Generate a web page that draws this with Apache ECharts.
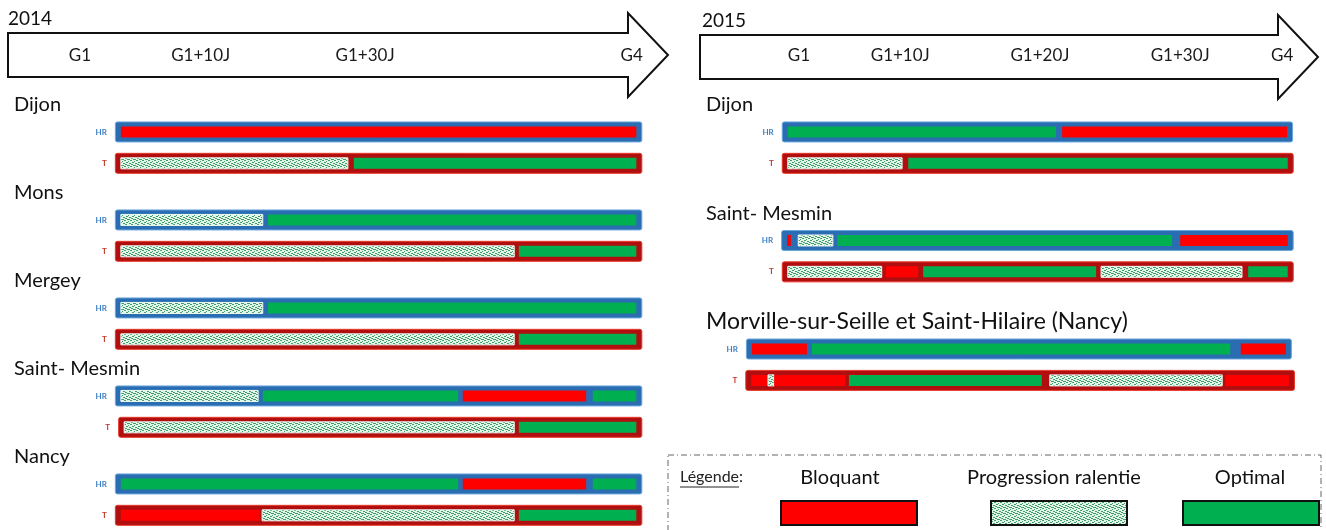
<!DOCTYPE html>
<html>
<head>
<meta charset="utf-8">
<script src="https://cdn.jsdelivr.net/npm/echarts@6/dist/echarts.min.js"></script>
<style>
  html, body { margin: 0; padding: 0; background: #fff; }
  #chart { width: 1326px; height: 530px; }
</style>
</head>
<body>
<div id="chart"></div>
<script>
// positions along each arrow, 0 = arrow start, 100 = arrow tip
// B = bloquant, P = progression ralentie, O = optimal
const sites2014 = ['Dijon', 'Mons', 'Mergey', 'Saint- Mesmin', 'Nancy']
const hr2014 = [
  [[17.1, 95.2, 'B']],
  [[17.1, 38.6, 'P'], [39.4, 95.2, 'O']],
  [[17.1, 38.6, 'P'], [39.4, 95.2, 'O']],
  [[17.1, 37.9, 'P'], [38.6, 68.2, 'O'], [68.9, 87.6, 'B'], [88.6, 95.2, 'O']],
  [[17.1, 68.2, 'O'], [68.9, 87.6, 'B'], [88.6, 95.2, 'O']]
]
const t2014 = [
  [[17.1, 51.5, 'P'], [52.4, 95.2, 'O']],
  [[17.1, 76.7, 'P'], [77.4, 95.2, 'O']],
  [[17.1, 76.7, 'P'], [77.4, 95.2, 'O']],
  [[17.6, 76.7, 'P'], [77.4, 95.2, 'O']],
  [[17.1, 38.2, 'B'], [38.5, 76.7, 'P'], [77.4, 95.2, 'O']]
]
const ticks2014 = ['G1', 'G1+10J', 'G1+30J', 'G4']
const tickPos2014 = [10.9, 29.2, 54.1, 94.5]

const sites2015 = ['Dijon', 'Saint- Mesmin', 'Morville-sur-Seille et Saint-Hilaire (Nancy)']
const hr2015 = [
  [[14.2, 57.6, 'O'], [58.6, 95.0, 'B']],
  [[14.1, 14.7, 'B'], [15.9, 21.5, 'P'], [22.2, 76.4, 'O'], [77.7, 95.1, 'B']],
  [[8.4, 17.3, 'B'], [18.1, 85.8, 'O'], [87.5, 94.8, 'B']]
]
const t2015 = [
  [[14.2, 32.7, 'P'], [33.7, 95.1, 'O']],
  [[14.2, 29.4, 'P'], [30.1, 35.3, 'B'], [36.1, 64.1, 'O'], [64.9, 87.7, 'P'], [88.7, 95.1, 'O']],
  [[8.3, 11.0, 'B'], [11.0, 12.0, 'P'], [12.0, 23.5, 'B'], [24.1, 55.3, 'O'], [56.6, 84.5, 'P'], [85.0, 95.3, 'B']]
]
const ticks2015 = ['G1', 'G1+10J', 'G1+20J', 'G1+30J', 'G4']
const tickPos2015 = [16.0, 32.4, 55.0, 77.7, 94.2]

const stateKeys = ['B', 'P', 'O']
const legendNames = ['Bloquant', 'Progression ralentie', 'Optimal']

const FONT = 'Lato, "Open Sans", sans-serif'
const siteSize2014 = [20, 20, 20, 20, 20]
const siteSize2015 = [20, 20, 23]

// motif pointillé vert pour "progression ralentie"
const makeDots = () => {
  const c = document.createElement('canvas')
  c.width = 6
  c.height = 6
  const g = c.getContext('2d')
  g.fillStyle = '#e4f4ea'
  g.fillRect(0, 0, 6, 6)
  g.fillStyle = '#3c9f68'
  ;[[0, 0, 2, 1], [3, 1, 2, 1], [1, 3, 2, 1], [4, 4, 2, 1], [5, 2, 1, 1], [2, 5, 1, 1], [0, 2, 1, 1], [3, 3, 1, 1]].forEach(r => g.fillRect(r[0], r[1], r[2], r[3]))
  return c
}
const dots = { image: makeDots(), repeat: 'repeat' }
const fills = ['#ff0000', dots, '#00b050']

// y: label of group g at g*step, HR and T rows just below
const buildPanel = (sites, hr, t, step) => {
  const frames = [], segs = [], labels = []
  sites.forEach((name, g) => {
    const y0 = g * step
    labels.push([0, y0])
    ;[[hr[g], 0, 0.93], [t[g], 1, 2.0]].forEach(([list, kind, off]) => {
      const y = y0 + off
      frames.push([Math.min(...list.map(s => s[0])), Math.max(...list.map(s => s[1])), y, kind])
      list.forEach(s => segs.push([s[0], s[1], y, stateKeys.indexOf(s[2])]))
    })
  })
  return { frames, segs, labels }
}

const p2014 = buildPanel(sites2014, hr2014, t2014, 3.0)
const p2015 = buildPanel(sites2015, hr2015, t2015, 3.7)

const frameItem = (params, api) => {
  const a = api.coord([api.value(0), api.value(2)])
  const b = api.coord([api.value(1), api.value(2)])
  const kind = api.value(3)
  const h = 20
  return {
    type: 'group',
    children: [
      {
        type: 'rect',
        shape: { x: a[0] - 5.5, y: a[1] - h / 2, width: b[0] - a[0] + 11, height: h, r: 2 },
        style: kind === 0
          ? { fill: '#2a6db3', stroke: '#6aa6dc', lineWidth: 1 }
          : { fill: '#b10f0f', stroke: '#e8382a', lineWidth: 1 }
      },
      {
        type: 'text',
        x: a[0] - 14,
        y: a[1],
        style: {
          text: kind === 0 ? 'HR' : 'T',
          fill: kind === 0 ? '#3b7fc4' : '#c0392b',
          font: 'bold 8px ' + FONT,
          textAlign: 'right',
          textVerticalAlign: 'middle'
        }
      }
    ]
  }
}

const segItem = (params, api) => {
  const a = api.coord([api.value(0), api.value(2)])
  const b = api.coord([api.value(1), api.value(2)])
  const st = api.value(3)
  const h = 11
  return {
    type: 'rect',
    shape: { x: a[0], y: a[1] - h / 2, width: b[0] - a[0], height: h },
    style: st === 1
      ? { fill: dots, stroke: '#f0f9f3', lineWidth: 1 }
      : { fill: fills[st] }
  }
}

const labelItem = (sites, sizes) => (params, api) => {
  const p = api.coord([api.value(0), api.value(1)])
  return {
    type: 'text',
    x: p[0] + 6,
    y: p[1],
    style: {
      text: sites[params.dataIndex],
      fill: '#111',
      font: sizes[params.dataIndex] + 'px ' + FONT,
      textVerticalAlign: 'middle'
    }
  }
}

const tickAxis = (idx, names, pos) => ({
  type: 'value',
  gridIndex: idx,
  min: 0,
  max: 100,
  position: 'top',
  offset: 18,
  z: 10,
  axisLine: { show: false },
  axisTick: { show: false },
  splitLine: { show: false },
  axisLabel: {
    customValues: pos,
    fontSize: 17,
    fontFamily: FONT,
    color: '#1a1a1a',
    formatter: v => names[pos.findIndex(p => Math.abs(p - v) < 1e-6)] || ''
  }
})

const rowAxis = idx => ({
  type: 'value',
  gridIndex: idx,
  inverse: true,
  min: -0.5,
  max: 14.5,
  show: false
})

const panelSeries = (idx, panel, sites, sizes) => [
  {
    type: 'custom', xAxisIndex: idx, yAxisIndex: idx, z: 2,
    encode: { x: [0, 1], y: 2 }, renderItem: frameItem, data: panel.frames
  },
  {
    type: 'custom', xAxisIndex: idx, yAxisIndex: idx, z: 3,
    encode: { x: [0, 1], y: 2 }, renderItem: segItem, data: panel.segs
  },
  {
    type: 'custom', xAxisIndex: idx, yAxisIndex: idx, z: 3,
    encode: { x: 0, y: 1 }, renderItem: labelItem(sites, sizes), data: panel.labels
  }
]

const arrow = (x0, x1, top) => ({
  type: 'polygon',
  z: -1,
  shape: {
    points: [
      [x0, top], [x1 - 40, top], [x1 - 40, top - 20], [x1, top + 22],
      [x1 - 40, top + 64], [x1 - 40, top + 44], [x0, top + 44]
    ]
  },
  style: { fill: '#fff', stroke: '#111', lineWidth: 2 }
})

// légende
const measure = (txt, font) => {
  const g = document.createElement('canvas').getContext('2d')
  g.font = font
  return g.measureText(txt).width
}
const legendFont = '20px ' + FONT
const swatchCenters = [849, 1059, 1251]
const textCenters = [840, 1054, 1250]
const legendItems = []
legendNames.forEach((name, i) => {
  legendItems.push({
    type: 'text', x: textCenters[i], y: 478,
    style: { text: name, font: legendFont, fill: '#111', textAlign: 'center', textVerticalAlign: 'middle' }
  })
  legendItems.push({
    type: 'rect',
    shape: { x: swatchCenters[i] - 68, y: 501, width: 136, height: 24 },
    style: { fill: fills[i], stroke: '#111', lineWidth: 2 }
  })
})
const legFont = '16px ' + FONT
const legW = measure('Légende', legFont)

const chart = echarts.init(document.getElementById('chart'))

chart.setOption({
  animation: false,
  grid: [
    { left: 8, top: 90, width: 660, height: 445.5 },
    { left: 700, top: 90, width: 618, height: 445.5 }
  ],
  xAxis: [tickAxis(0, ticks2014, tickPos2014), tickAxis(1, ticks2015, tickPos2015)],
  yAxis: [rowAxis(0), rowAxis(1)],
  series: [...panelSeries(0, p2014, sites2014, siteSize2014), ...panelSeries(1, p2015, sites2015, siteSize2015)],
  graphic: [
    arrow(8, 668, 33),
    arrow(700, 1318, 35),
    { type: 'text', x: 8, y: 19, style: { text: '2014', font: '19px ' + FONT, fill: '#111', textVerticalAlign: 'middle' } },
    { type: 'text', x: 702, y: 21, style: { text: '2015', font: '19px ' + FONT, fill: '#111', textVerticalAlign: 'middle' } },
    {
      type: 'rect',
      shape: { x: 668, y: 455, width: 653, height: 100 },
      style: { fill: 'none', stroke: '#666', lineWidth: 1, lineDash: [6, 3, 1, 3] }
    },
    { type: 'text', x: 680, y: 477, style: { text: 'Légende:', font: legFont, fill: '#222', textVerticalAlign: 'middle' } },
    { type: 'line', shape: { x1: 680, y1: 487, x2: 680 + legW, y2: 487 }, style: { stroke: '#222', lineWidth: 1 } },
    ...legendItems
  ]
})
</script>
</body>
</html>
